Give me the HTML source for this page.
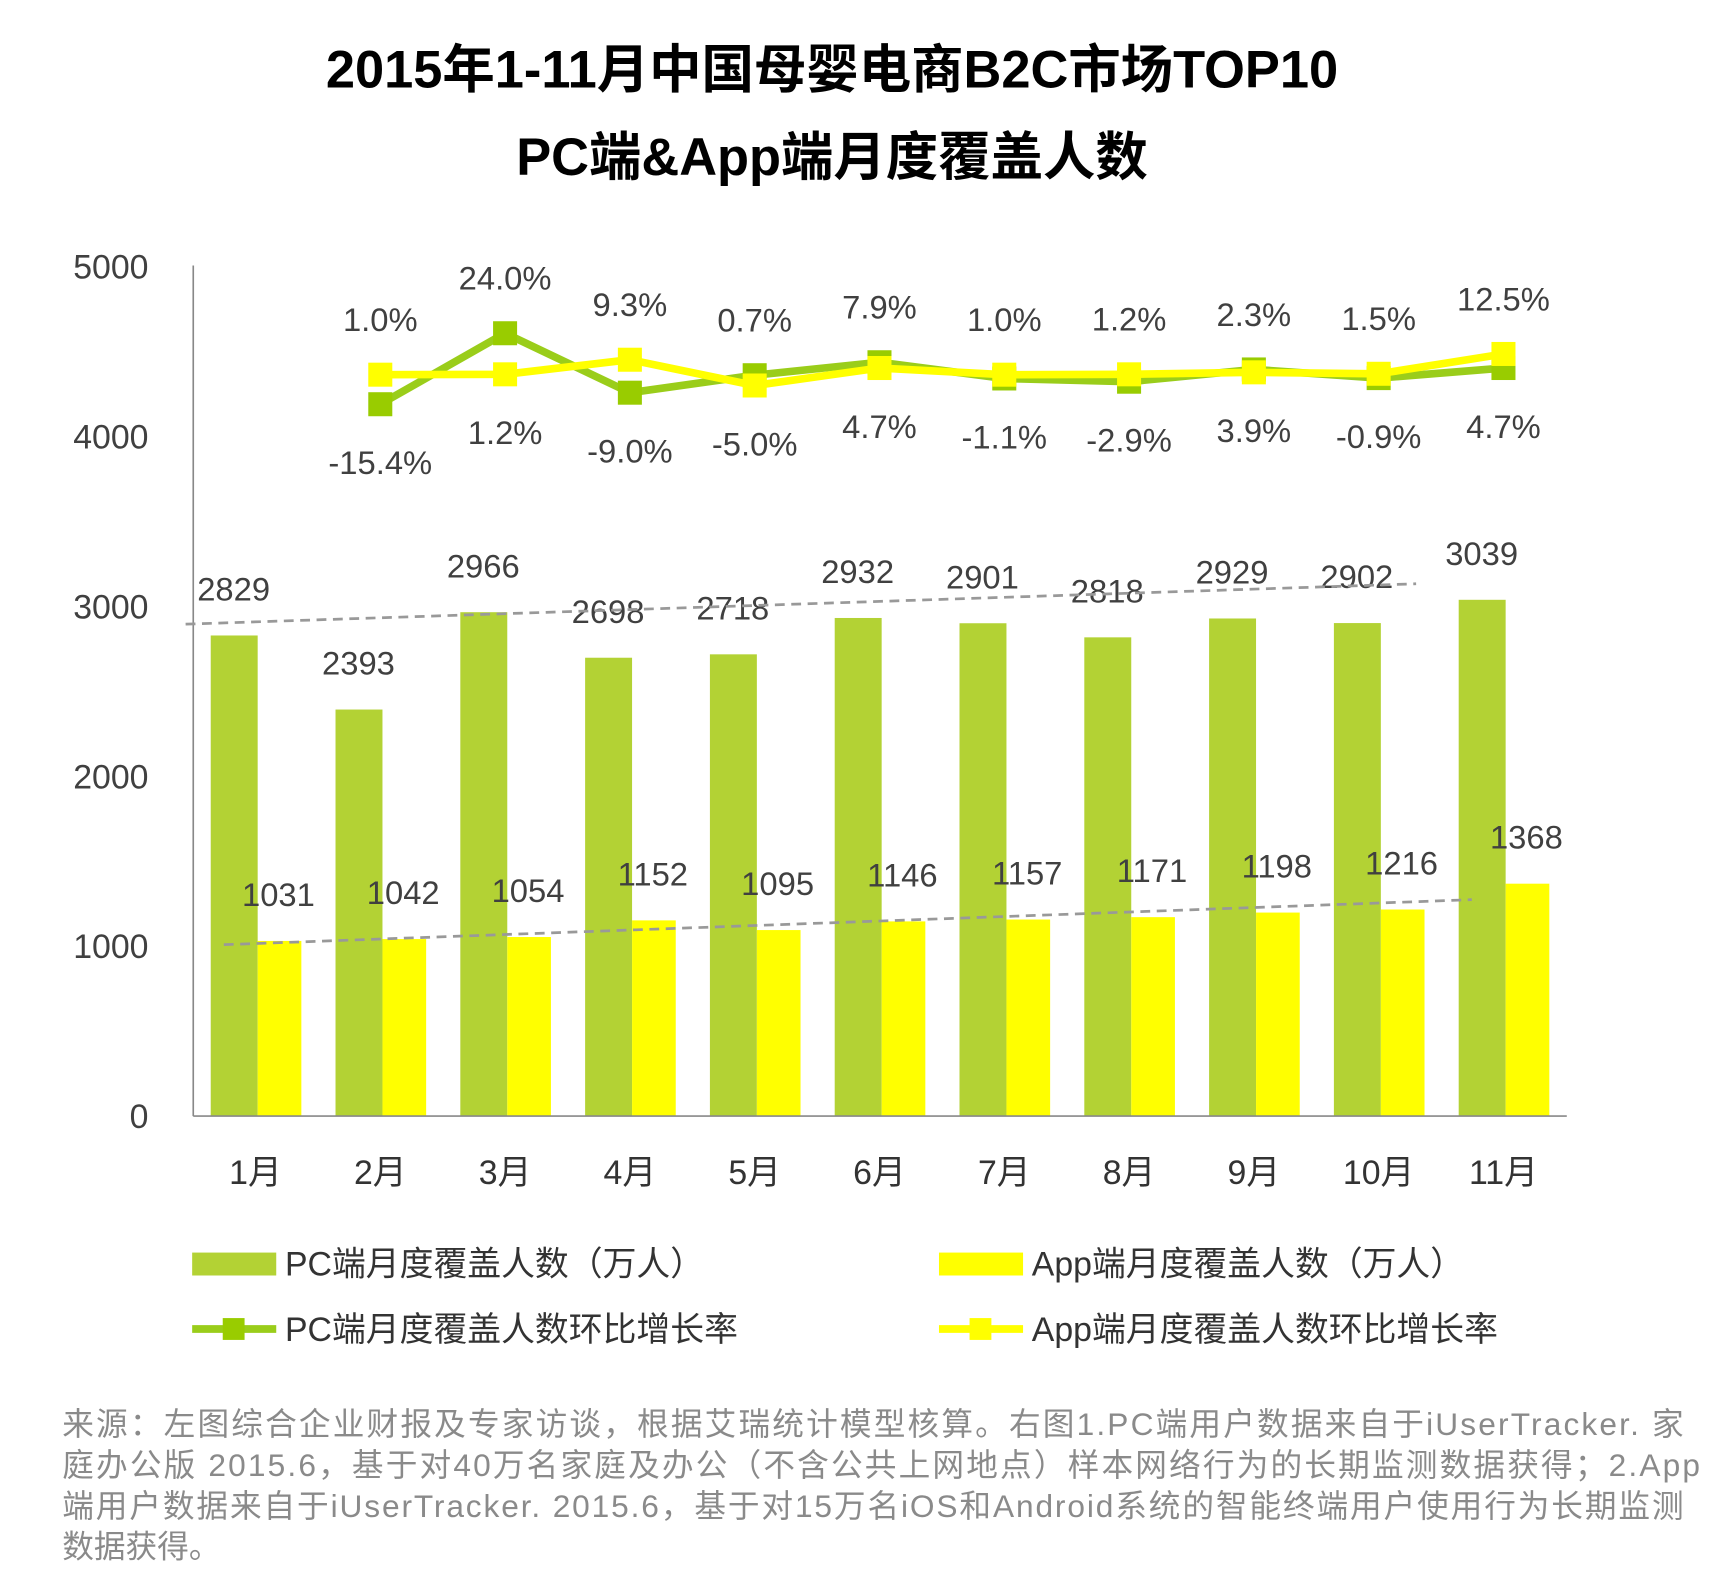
<!DOCTYPE html>
<html><head><meta charset="utf-8"><style>
html,body{margin:0;padding:0;background:#fff}
svg{display:block}
text{font-family:"Liberation Sans","Noto Sans CJK SC",sans-serif}
</style></head><body>
<svg id="chart" width="1712" height="1588" viewBox="0 0 1568 1454" xmlns="http://www.w3.org/2000/svg">
<g id="root"></g>
</svg>
<script>
const categories=["1月","2月","3月","4月","5月","6月","7月","8月","9月","10月","11月"];
const pcValues=[2829,2393,2966,2698,2718,2932,2901,2818,2929,2902,3039];
const appValues=[1031,1042,1054,1152,1095,1146,1157,1171,1198,1216,1368];
const pcGrowth=[null,-15.4,24.0,-9.0,0.7,7.9,-1.1,-2.9,3.9,-0.9,4.7];
const appGrowth=[null,1.0,1.2,9.3,-5.0,4.7,1.0,1.2,2.3,1.5,12.5];
const topIsPc=[false,false,true,false,true,true,false,false,false,false,false];
const yTicks=[0,1000,2000,3000,4000,5000];

const NS="http://www.w3.org/2000/svg";
const root=document.getElementById('root');
function mk(tag,attrs,parent,txt){const e=document.createElementNS(NS,tag);for(const k in attrs)e.setAttribute(k,attrs[k]);if(txt!==undefined)e.textContent=txt;(parent||root).appendChild(e);return e;}
const y0=1022,yScale=155.6/1000;
const yv=v=>y0-v*yScale;
const cx=i=>234+i*114.3;
const yg=v=>344.6-1.65*v;

let t=mk('text',{x:762,y:80,'text-anchor':'middle','font-size':48,'font-weight':'bold',fill:'#000'},root,'2015年1-11月中国母婴电商B2C市场TOP10');

t=mk('text',{x:762,y:160,'text-anchor':'middle','font-size':48,'font-weight':'bold',fill:'#000'},root,'PC端&App端月度覆盖人数');


yTicks.forEach(v=>{const e=mk('text',{x:136,y:yv(v)+11,'text-anchor':'end','font-size':31,fill:'#404040'},root,String(v));
});

categories.forEach((c,i)=>{
 let b=mk('rect',{x:cx(i)-41,y:yv(pcValues[i]),width:43,height:pcValues[i]*yScale,fill:'#b3d234'});
 
 b=mk('rect',{x:cx(i)+2,y:yv(appValues[i]),width:40,height:appValues[i]*yScale,fill:'#ffff00'});
 
 let l=mk('text',{x:cx(i)-20,y:yv(pcValues[i])-32,'text-anchor':'middle','font-size':30,fill:'#404040'},root,String(pcValues[i]));
 
 l=mk('text',{x:cx(i)+21,y:yv(appValues[i])-32,'text-anchor':'middle','font-size':30,fill:'#404040'},root,String(appValues[i]));
 
 l=mk('text',{x:cx(i),y:1084,'text-anchor':'middle','font-size':31,fill:'#333'},root,c);
 
});

let ax=mk('line',{x1:177,y1:243,x2:177,y2:y0,stroke:'#888','stroke-width':1.5});

ax=mk('line',{x1:177,y1:y0,x2:1435,y2:y0,stroke:'#888','stroke-width':1.5});


function trend(vals,xs,xe,name,off,slopeK){const n=vals.length;let mx=(n-1)/2,my=vals.reduce((a,b)=>a+b)/n,num=0,den=0;
 vals.forEach((v,i)=>{num+=(i-mx)*(v-my);den+=(i-mx)*(i-mx)});const s=num/den*slopeK;
 const f=x=>{const i=(x-234)/114.3;return my+off+s*(i-mx)};
 const e=mk('line',{x1:xs,y1:yv(f(xs)),x2:xe,y2:yv(f(xe)),stroke:'#999','stroke-width':2.5,'stroke-dasharray':'9 6'});
 }
trend(pcValues,170,1297,'pc-trend-line',200,0.78);
trend(appValues,205,1348,'app-trend-line',0,1);

function series(vals,color,mcolor,name){let pts=[];vals.forEach((v,i)=>{if(v!==null)pts.push([cx(i),yg(v)])});
 const p=mk('polyline',{points:pts.map(p=>p.join(',')).join(' '),fill:'none',stroke:color,'stroke-width':7,'stroke-linejoin':'round'});
 
 pts.forEach(q=>{const m=mk('rect',{x:q[0]-11,y:q[1]-11,width:22,height:22,fill:mcolor});
 });}
series(pcGrowth,'#9acd1a','#99cc00','pc-growth');
series(appGrowth,'#ffff00','#ffff00','app-growth');

categories.forEach((c,i)=>{if(pcGrowth[i]===null)return;
 const top=topIsPc[i]?pcGrowth[i]:appGrowth[i],bot=topIsPc[i]?appGrowth[i]:pcGrowth[i];
 const hiY=Math.min(yg(top),yg(bot)),loY=Math.max(yg(top),yg(bot));
 let e=mk('text',{x:cx(i),y:hiY-40,'text-anchor':'middle','font-size':30,fill:'#404040'},root,top.toFixed(1)+'%');
 
 e=mk('text',{x:cx(i),y:loY+64,'text-anchor':'middle','font-size':30,fill:'#404040'},root,bot.toFixed(1)+'%');
 
});

function leg(x,y,type,color,label,name){const g=mk('g',{});
 if(type==='bar')mk('rect',{x:x,y:y-10,width:77,height:21,fill:color},g);
 else{mk('line',{x1:x,y1:y,x2:x+77,y2:y,stroke:color,'stroke-width':7},g);mk('rect',{x:x+28,y:y-10,width:20,height:20,fill:color==='#9acd1a'?'#99cc00':color},g);}
 mk('text',{x:x+85,y:y+11,'font-size':31,fill:'#333'},g,label);}
leg(176,1157,'bar','#b3d234','PC端月度覆盖人数（万人）','legend-pc-bar');
leg(860,1157,'bar','#ffff00','App端月度覆盖人数（万人）','legend-app-bar');
leg(176,1217,'line','#9acd1a','PC端月度覆盖人数环比增长率','legend-pc-growth');
leg(860,1217,'line','#ffff00','App端月度覆盖人数环比增长率','legend-app-growth');

const notes=['来源：左图综合企业财报及专家访谈，根据艾瑞统计模型核算。右图1.PC端用户数据来自于iUserTracker. 家','庭办公版 2015.6，基于对40万名家庭及办公（不含公共上网地点）样本网络行为的长期监测数据获得；2.App','端用户数据来自于iUserTracker. 2015.6，基于对15万名iOS和Android系统的智能终端用户使用行为长期监测','数据获得。'];
const lens=[1485,1500,1485,null];
notes.forEach((s,i)=>{const e=mk('text',{x:57,y:1314+i*37.5,'font-size':29,fill:'#8a8a8a'},root,s);
 if(lens[i])e.setAttribute('textLength',lens[i]);
 });
</script>
</body></html>
